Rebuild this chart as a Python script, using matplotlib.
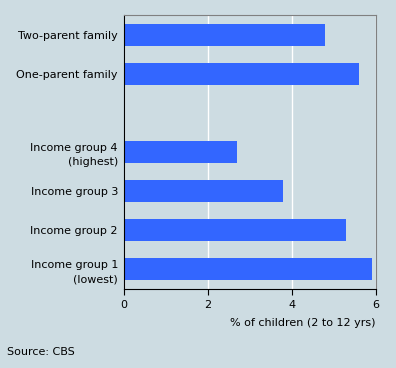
import numpy as np
import matplotlib.pyplot as plt

labels = ["Two-parent family", "One-parent family", "",
          "Income group 4\n(highest)", "Income group 3", "Income group 2",
          "Income group 1\n(lowest)"]
values = [4.79, 5.60, np.nan, 2.70, 3.79, 5.29, 5.90]

bg = "#cddce2"
fig = plt.figure(figsize=(3.96, 3.68), dpi=100, facecolor=bg)
ax = fig.add_axes([123.5/396, 1-289/368, (376-123.5)/396, (289-15)/368])
ax.set_facecolor(bg)

pos = np.arange(len(labels))
ax.barh(pos, values, height=0.56, color="#3366ff", zorder=2)
ax.set_ylim(len(labels)-0.5, -0.5)
ax.set_yticks(pos)
ax.set_yticklabels(labels, fontsize=8, linespacing=1.45)
ax.tick_params(axis="y", length=0, pad=4)

ax.set_xlim(0, 6)
ax.set_xticks([0, 2, 4, 6])
ax.tick_params(axis="x", labelsize=8, length=4, direction="out", color="black", pad=4)
ax.grid(axis="x", color="white", linewidth=1, zorder=1)
for l in ax.get_yticklabels():
    l.set_horizontalalignment("right")

for s in ["left", "bottom"]:
    ax.spines[s].set_color("black")
for s in ["top", "right"]:
    ax.spines[s].set_color("#808080")

ax.set_xlabel("% of children (2 to 12 yrs)", fontsize=8, loc="right", labelpad=6)
fig.text(7/396, 1-352/368, "Source: CBS", fontsize=8, va="center")

fig.savefig("out.png", dpi=100, facecolor=bg)
